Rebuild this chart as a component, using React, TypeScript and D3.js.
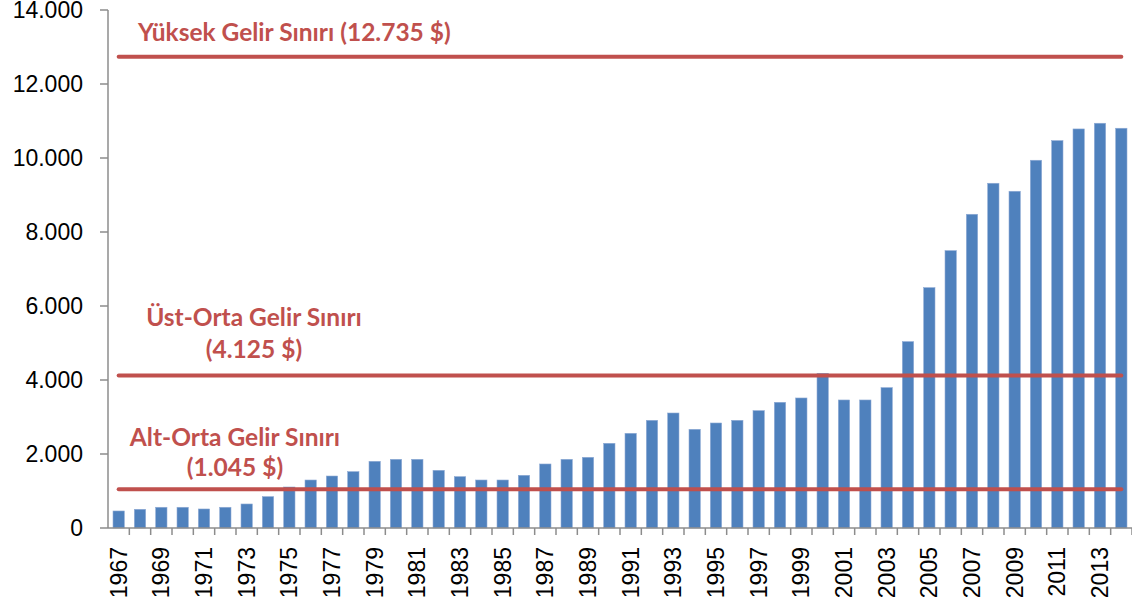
import React from "react";
import * as d3 from "d3";

const years: number[] = [
  1967, 1968, 1969, 1970, 1971, 1972, 1973, 1974, 1975, 1976, 1977, 1978,
  1979, 1980, 1981, 1982, 1983, 1984, 1985, 1986, 1987, 1988, 1989, 1990,
  1991, 1992, 1993, 1994, 1995, 1996, 1997, 1998, 1999, 2000, 2001, 2002,
  2003, 2004, 2005, 2006, 2007, 2008, 2009, 2010, 2011, 2012, 2013, 2014,
];
const gdpPerCapita: number[] = [
  460, 505, 560, 560, 514, 560, 649, 847, 1108, 1297, 1405, 1523,
  1802, 1856, 1856, 1559, 1388, 1297, 1297, 1424, 1730, 1856, 1910, 2289,
  2559, 2910, 3108, 2667, 2838, 2910, 3171, 3397, 3514, 4181, 3460, 3460,
  3793, 5037, 6496, 7496, 8479, 9317, 9101, 9939, 10469, 10785, 10939, 10804,
];
const yTicks: number[] = [0, 2000, 4000, 6000, 8000, 10000, 12000, 14000];
const thresholds: number[] = [1045, 4125, 12735];
const thresholdLabels: string[][] = [
  ["Alt-Orta Gelir Sınırı", "(1.045 $)"],
  ["Üst-Orta Gelir Sınırı", "(4.125 $)"],
  ["Yüksek Gelir Sınırı (12.735 $)"],
];

const W = 1132;
const H = 607;
const left = 108;
const right = 1132;
const top = 10;
const bottom = 528;

const BAR = "#4F81BD";
const RED = "#C0504D";
const AXIS = "#8C8C8C";

const fmt = (v: number) => d3.format(",")(v).replace(/,/g, ".");

export default function App() {
  const x = d3
    .scaleBand<number>()
    .domain(years)
    .range([left, right])
    .paddingInner(0.47)
    .paddingOuter(0.235);
  const step = x.step();
  const y = d3.scaleLinear().domain([0, 14000]).range([bottom, top]);

  const lineX1 = (x(years[0]) as number) + x.bandwidth() / 2;
  const lineX2 = (x(years[years.length - 1]) as number) + x.bandwidth() / 2;

  const labelFont = "Lato, 'Open Sans', sans-serif";
  const axisFont = "'Liberation Sans', Arial, sans-serif";

  const labelPos = [
    { cx: 235, lines: [446, 476], anchor: "middle" as const },
    { cx: 254, lines: [326, 358], anchor: "middle" as const },
    { cx: 138, lines: [41], anchor: "start" as const },
  ];

  return (
    <svg
      width={W}
      height={H}
      style={{ position: "absolute", left: 0, top: 0, background: "#fff" }}
    >
      <rect x={0} y={0} width={W} height={H} fill="#fff" />
      {years.map((yr, i) => (
        <rect
          key={yr}
          x={x(yr)}
          y={y(gdpPerCapita[i])}
          width={x.bandwidth()}
          height={bottom - y(gdpPerCapita[i])}
          fill={BAR}
          stroke="#8EAAD4"
          strokeWidth={0.6}
        />
      ))}
      <line x1={left} x2={left} y1={top} y2={bottom} stroke={AXIS} strokeWidth={1.5} />
      {yTicks.map((t) => (
        <g key={t}>
          <line x1={left - 8} x2={left} y1={y(t)} y2={y(t)} stroke={AXIS} strokeWidth={1.5} />
          <text
            x={83}
            y={y(t) + 8}
            textAnchor="end"
            fontFamily={axisFont}
            fontSize={23}
            fill="#000"
          >
            {fmt(t)}
          </text>
        </g>
      ))}
      <line x1={left} x2={right} y1={bottom} y2={bottom} stroke={AXIS} strokeWidth={1.5} />
      {years.map((yr, i) => (
        <line
          key={"t" + yr}
          x1={left + step * (i + 1)}
          x2={left + step * (i + 1)}
          y1={bottom}
          y2={bottom + 7}
          stroke={AXIS}
          strokeWidth={1.5}
        />
      ))}
      {years
        .filter((_, i) => i % 2 === 0)
        .map((yr) => {
          const cx = (x(yr) as number) + x.bandwidth() / 2;
          return (
            <text
              key={"l" + yr}
              transform={`translate(${cx},${bottom + 19}) rotate(-90)`}
              textAnchor="end"
              dominantBaseline="central"
              fontFamily={axisFont}
              fontSize={23}
              fill="#000"
            >
              {yr}
            </text>
          );
        })}
      {thresholds.map((v) => (
        <line
          key={"th" + v}
          x1={lineX1}
          x2={lineX2}
          y1={y(v)}
          y2={y(v)}
          stroke={RED}
          strokeWidth={4}
          strokeLinecap="round"
        />
      ))}
      {thresholdLabels.map((lines, k) => (
        <text
          key={"tl" + k}
          fontFamily={labelFont}
          fontWeight="bold"
          fontSize={24.5}
          fill={RED}
          textAnchor={labelPos[k].anchor}
        >
          {lines.map((s, j) => (
            <tspan key={j} x={labelPos[k].cx} y={labelPos[k].lines[j]}>
              {s}
            </tspan>
          ))}
        </text>
      ))}
    </svg>
  );
}
